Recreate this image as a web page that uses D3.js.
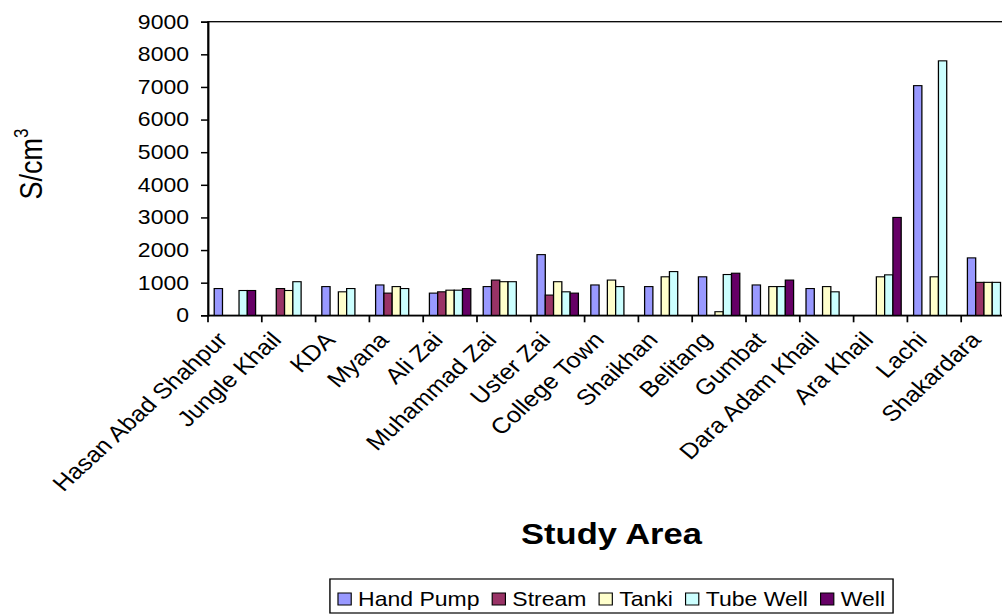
<!DOCTYPE html>
<html>
<head>
<meta charset="utf-8">
<script src="https://cdn.jsdelivr.net/npm/d3@7"></script>
<style>
html,body{margin:0;padding:0;background:#fff;}
svg{display:block;}
text{font-family:Arial,"Liberation Sans",sans-serif;fill:#000;}
</style>
</head>
<body>
<svg id="chart" width="1002" height="615"></svg>
<script>
const categories = ["Hasan Abad Shahpur","Jungle Khail","KDA","Myana","Ali Zai","Muhammad Zai","Uster Zai","College Town","Shaikhan","Belitang","Gumbat","Dara Adam Khail","Ara Khail","Lachi","Shakardara"];
const seriesNames = ["Hand Pump","Stream","Tanki","Tube Well","Well"];
const handPump = [820, null, 880, 930, 680, 880, 1860, 930, 880, 1180, 930, 820, null, 7040, 1760];
const stream   = [null, 820, null, 680, 720, 1080, 620, null, null, null, null, null, null, null, 1010];
const tanki    = [null, 760, 720, 880, 770, 1030, 1030, 1080, 1180, 110, 880, 880, 1180, 1180, 1010];
const tubeWell = [760, 1030, 820, 820, 770, 1030, 720, 880, 1340, 1250, 880, 720, 1240, 7800, 1010];
const well     = [760, null, null, null, 820, null, 680, null, null, 1290, 1080, null, 3000, null, null];
const yTicks = [0,1000,2000,3000,4000,5000,6000,7000,8000,9000];
const colors = ["#9999FF","#993366","#FFFFCC","#CCFFFF","#660066"];

const seriesValues = [handPump, stream, tanki, tubeWell, well];
const SX = 1.15;
const svg = d3.select("#chart");
const g = svg.append("g").attr("transform", `scale(${SX},1)`);

const plotLeft = 208/SX, plotRight = 1015/SX, plotTop = 21.7, plotBottom = 315.3;

const x = d3.scaleBand().domain(categories).range([plotLeft, plotRight]).paddingInner(0).paddingOuter(0);
const xs = d3.scaleBand().domain(seriesNames).range([0, x.bandwidth()]).paddingInner(0).paddingOuter(0.75);
const y = d3.scaleLinear().domain([0, 9000]).range([plotBottom, plotTop]);

// plot area border
g.append("rect").attr("x", plotLeft).attr("y", plotTop)
 .attr("width", plotRight - plotLeft).attr("height", plotBottom - plotTop)
 .attr("fill", "none").attr("stroke", "#000").attr("stroke-width", 1.3);

// bars
const barData = [];
seriesValues.forEach((vals, si) => {
  vals.forEach((v, ci) => {
    if (v != null) barData.push({cat: categories[ci], s: seriesNames[si], v, c: colors[si]});
  });
});
g.append("g").selectAll("rect").data(barData).join("rect")
 .attr("x", d => x(d.cat) + xs(d.s))
 .attr("y", d => y(d.v))
 .attr("width", xs.bandwidth())
 .attr("height", d => y(0) - y(d.v))
 .attr("fill", d => d.c)
 .attr("stroke", "#000").attr("stroke-width", 1.1);

// y axis
const yAxis = d3.axisLeft(y).tickValues(yTicks).tickSize(7/SX).tickPadding(12/SX).tickFormat(d3.format("d"));
const yg = g.append("g").attr("transform", `translate(${plotLeft},0)`).call(yAxis);
yg.select(".domain").attr("stroke", "#000").attr("stroke-width", 1.5);
yg.selectAll(".tick line").attr("stroke", "#000").attr("stroke-width", 1.5);
yg.selectAll(".tick text").style("font-size", "20px").style("font-family", "Arial, 'Liberation Sans', sans-serif").attr("fill", "#000");

// x axis with ticks at category boundaries
const xAxis = d3.axisBottom(x).tickSize(0).tickFormat("");
const xg = g.append("g").attr("transform", `translate(0,${plotBottom})`).call(xAxis);
xg.select(".domain").attr("stroke", "#000").attr("stroke-width", 1.5);
xg.selectAll(".tick").remove();
const boundaries = categories.map(c => x(c)).concat([x(categories[categories.length-1]) + x.bandwidth()]);
xg.selectAll("line.bt").data(boundaries).join("line").attr("class","bt")
 .attr("x1", d => d).attr("x2", d => d).attr("y1", 0).attr("y2", 7)
 .attr("stroke", "#000").attr("stroke-width", 1.5);

// category labels
g.append("g").selectAll("text").data(categories).join("text")
 .attr("transform", d => `translate(${x(d) + x.bandwidth()/2 - 6/SX},341) rotate(-46.5)`)
 .attr("text-anchor", "end")
 .style("font-size", "22px")
 .text(d => d);

// y axis title
const yt = g.append("text")
 .attr("transform", `translate(${42/SX},164) rotate(-90)`)
 .attr("text-anchor", "middle")
 .style("font-size", "27px");
yt.append("tspan").text("S/cm");
yt.append("tspan").attr("dy", -12).style("font-size", "17px").text("3");

// x axis title
g.append("text")
 .attr("x", (plotLeft + plotRight)/2).attr("y", 544)
 .attr("text-anchor", "middle")
 .style("font-size", "30px").style("font-weight", "bold")
 .text("Study Area");

// legend
const leg = g.append("g");
const sq = 11.5, gap1 = 6, gap2 = 11, fs = 20;
let cx = 0;
const items = [];
seriesNames.forEach((n, i) => {
  const t = leg.append("text").attr("y", 606).style("font-size", fs + "px").text(n);
  const w = t.node().getComputedTextLength();
  items.push({t, w, i, x: cx});
  cx += sq + gap1 + w + gap2;
});
const total = cx - gap2;
const startX = (plotLeft + plotRight)/2 - total/2;
items.forEach(it => {
  const sx0 = startX + it.x;
  leg.append("rect").attr("x", sx0).attr("y", 593).attr("width", sq).attr("height", 12)
   .attr("fill", colors[it.i]).attr("stroke", "#000").attr("stroke-width", 1);
  it.t.attr("x", sx0 + sq + gap1);
});
leg.insert("rect", ":first-child")
 .attr("x", startX - 7).attr("y", 579).attr("width", total + 14).attr("height", 34)
 .attr("fill", "#fff").attr("stroke", "#000").attr("stroke-width", 1.2);
</script>
</body>
</html>
